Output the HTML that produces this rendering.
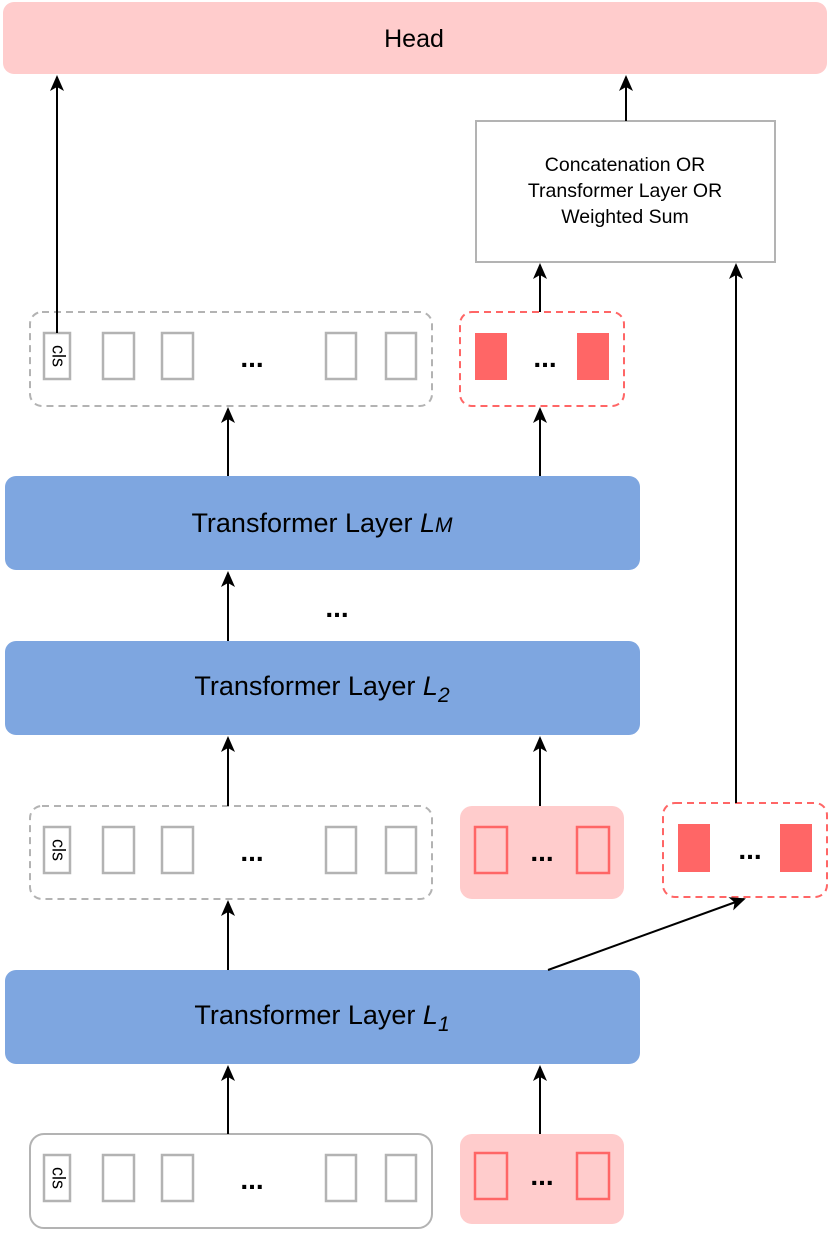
<!DOCTYPE html>
<html><head><meta charset="utf-8"><style>
html,body{margin:0;padding:0;background:#fff;}
svg{display:block;font-family:"Liberation Sans",Arial,sans-serif;}
</style></head><body>
<svg width="830" height="1236" viewBox="0 0 830 1236" xmlns="http://www.w3.org/2000/svg">
<defs>
<marker id="a" markerWidth="16" markerHeight="14" refX="14" refY="7" orient="auto" markerUnits="userSpaceOnUse" viewBox="0 0 16 14">
<path d="M0,0 L16,7 L0,14 L4,7 Z" fill="#000"/>
</marker>
</defs>

<rect x="3" y="2" width="824" height="72" rx="11" fill="#ffcccc"/>
<text x="414" y="47" font-size="25" text-anchor="middle">Head</text>

<rect x="476" y="121" width="299" height="141" fill="#fff" stroke="#b3b3b3" stroke-width="2"/>
<text x="625" y="171" font-size="19.5" text-anchor="middle">Concatenation OR</text>
<text x="625" y="197" font-size="19.5" text-anchor="middle">Transformer Layer OR</text>
<text x="625" y="223" font-size="19.5" text-anchor="middle">Weighted Sum</text>

<rect x="5" y="476" width="635" height="94" rx="11" fill="#7ea6e0"/>
<text x="322" y="532" font-size="27" text-anchor="middle">Transformer Layer <tspan font-style="italic">L</tspan><tspan font-style="italic" font-size="21">M</tspan></text>
<text x="337" y="617" font-size="28" font-weight="bold" text-anchor="middle">...</text>
<rect x="5" y="641" width="635" height="94" rx="11" fill="#7ea6e0"/>
<text x="322" y="695" font-size="27" text-anchor="middle">Transformer Layer <tspan font-style="italic">L</tspan><tspan font-style="italic" font-size="21" dy="7">2</tspan></text>
<rect x="5" y="970" width="635" height="94" rx="11" fill="#7ea6e0"/>
<text x="322" y="1024" font-size="27" text-anchor="middle">Transformer Layer <tspan font-style="italic">L</tspan><tspan font-style="italic" font-size="21" dy="7">1</tspan></text>

<rect x="30" y="312" width="402" height="94" rx="12" fill="none" stroke="#b3b3b3" stroke-width="2" stroke-dasharray="7,5"/>
<g fill="#fff" stroke="#b3b3b3" stroke-width="2.5">
<rect x="44" y="333" width="26" height="46"/>
<rect x="103" y="333" width="31" height="46"/>
<rect x="162" y="333" width="31" height="46"/>
<rect x="326" y="333" width="30" height="46"/>
<rect x="386" y="333" width="30" height="46"/>
</g>
<text x="57" y="356" font-size="18" text-anchor="middle" dominant-baseline="middle" transform="rotate(90 57 356)">cls</text>
<text x="252" y="367" font-size="28" font-weight="bold" text-anchor="middle">...</text>
<rect x="460" y="312" width="164" height="94" rx="12" fill="none" stroke="#ff6666" stroke-width="2" stroke-dasharray="7,5"/>
<rect x="475" y="333" width="32" height="47" fill="#ff6666"/>
<rect x="577" y="333" width="32" height="47" fill="#ff6666"/>
<text x="545" y="367" font-size="28" font-weight="bold" text-anchor="middle">...</text>

<rect x="30" y="806" width="402" height="93" rx="12" fill="none" stroke="#b3b3b3" stroke-width="2" stroke-dasharray="7,5"/>
<g fill="#fff" stroke="#b3b3b3" stroke-width="2.5">
<rect x="44" y="827" width="26" height="46"/>
<rect x="103" y="827" width="31" height="46"/>
<rect x="162" y="827" width="31" height="46"/>
<rect x="326" y="827" width="30" height="46"/>
<rect x="386" y="827" width="30" height="46"/>
</g>
<text x="57" y="850" font-size="18" text-anchor="middle" dominant-baseline="middle" transform="rotate(90 57 850)">cls</text>
<text x="252" y="861" font-size="28" font-weight="bold" text-anchor="middle">...</text>
<rect x="460" y="806" width="164" height="93" rx="12" fill="#ffcccc"/>
<g fill="none" stroke="#ff6666" stroke-width="2.5">
<rect x="475" y="827" width="32" height="46"/>
<rect x="577" y="827" width="32" height="46"/>
</g>
<text x="542" y="861" font-size="28" font-weight="bold" text-anchor="middle">...</text>
<rect x="663" y="803" width="164" height="94" rx="12" fill="none" stroke="#ff6666" stroke-width="2" stroke-dasharray="7,5"/>
<rect x="678" y="824" width="32" height="48" fill="#ff6666"/>
<rect x="780" y="824" width="32" height="48" fill="#ff6666"/>
<text x="750" y="859" font-size="28" font-weight="bold" text-anchor="middle">...</text>

<rect x="30" y="1134" width="402" height="94" rx="14" fill="#fff" stroke="#b3b3b3" stroke-width="2"/>
<g fill="#fff" stroke="#b3b3b3" stroke-width="2.5">
<rect x="44" y="1155" width="26" height="46"/>
<rect x="103" y="1155" width="31" height="46"/>
<rect x="162" y="1155" width="31" height="46"/>
<rect x="326" y="1155" width="30" height="46"/>
<rect x="386" y="1155" width="30" height="46"/>
</g>
<text x="57" y="1178" font-size="18" text-anchor="middle" dominant-baseline="middle" transform="rotate(90 57 1178)">cls</text>
<text x="252" y="1189" font-size="28" font-weight="bold" text-anchor="middle">...</text>
<rect x="460" y="1134" width="164" height="90" rx="12" fill="#ffcccc"/>
<g fill="none" stroke="#ff6666" stroke-width="2.5">
<rect x="475" y="1153" width="32" height="46"/>
<rect x="577" y="1153" width="32" height="46"/>
</g>
<text x="542" y="1185" font-size="28" font-weight="bold" text-anchor="middle">...</text>

<g stroke="#000" stroke-width="2" fill="none" marker-end="url(#a)">
<line x1="57" y1="333" x2="57" y2="77"/>
<line x1="626" y1="121" x2="626" y2="77"/>
<line x1="540" y1="312" x2="540" y2="265"/>
<line x1="736" y1="803" x2="736" y2="265"/>
<line x1="228" y1="476" x2="228" y2="409"/>
<line x1="540" y1="476" x2="540" y2="409"/>
<line x1="228" y1="641" x2="228" y2="573"/>
<line x1="228" y1="806" x2="228" y2="738"/>
<line x1="540" y1="806" x2="540" y2="738"/>
<line x1="228" y1="970" x2="228" y2="902"/>
<line x1="548" y1="970" x2="744" y2="899"/>
<line x1="228" y1="1134" x2="228" y2="1067"/>
<line x1="540" y1="1134" x2="540" y2="1067"/>
</g>
</svg>
</body></html>
